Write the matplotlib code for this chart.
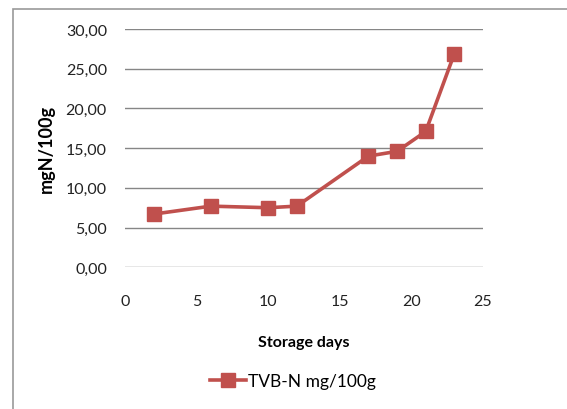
import matplotlib
matplotlib.use("Agg")
import matplotlib.pyplot as plt
from matplotlib.patches import Rectangle

days = [2, 6, 10, 12, 17, 19, 21, 23]
tvbn = [6.7, 7.7, 7.5, 7.7, 14.0, 14.6, 17.1, 26.9]
yticks = [0, 5, 10, 15, 20, 25, 30]
xticks = [0, 5, 10, 15, 20, 25]

plt.rcParams['font.family'] = ['Lato', 'DejaVu Sans']

fig = plt.figure(figsize=(5.67, 4.10), dpi=100)
ax = fig.add_axes([125/567, 1-268.3/410, (483-125)/567, (268.3-30)/410])

color = '#C0504D'
ax.plot(days, tvbn, color=color, lw=2.6, marker='s', markersize=10,
        label='TVB-N mg/100g')

ax.set_xlim(0, 25)
ax.set_ylim(0, 30)
ax.set_yticks(yticks)
ax.set_yticklabels([f"{v:.2f}".replace('.', ',') for v in yticks])
ax.set_xticks(xticks)
ax.set_xticklabels([str(v) for v in xticks])
ax.grid(axis='y', color='#868686', lw=1)
ax.set_axisbelow(True)
for s in ax.spines.values():
    s.set_visible(False)
ax.tick_params(length=0, labelsize=11.5, colors='#222222')
ax.tick_params(axis='y', pad=13)
ax.tick_params(axis='x', pad=19)

ax.set_xlabel('Storage days', fontsize=11.5, fontweight='bold', labelpad=20)
ax.set_ylabel('mgN/100g', fontsize=13, fontweight='bold')
ax.yaxis.set_label_coords((55-125)/358, 0.5)

leg = fig.legend(loc='center', bbox_to_anchor=(293/567, 1-382/410), frameon=False,
                 fontsize=12.5, handlelength=2.1, handletextpad=0.1, markerscale=1.0)

fig.patches.append(Rectangle((13/567, -0.1), 1.2, 1-10/410+0.1, transform=fig.transFigure,
                             fill=False, edgecolor='#999999', lw=1.2))

fig.savefig('out.png', dpi=100)
